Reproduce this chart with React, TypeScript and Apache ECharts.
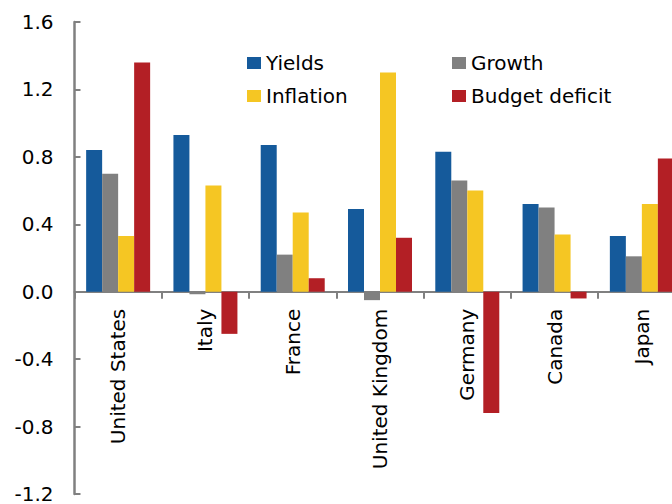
import React, { useEffect, useRef } from "react";
import * as echarts from "echarts";

const categories = ["United States", "Italy", "France", "United Kingdom", "Germany", "Canada", "Japan"];
const yields = [0.84, 0.93, 0.87, 0.49, 0.83, 0.52, 0.33];
const growth = [0.7, -0.015, 0.22, -0.05, 0.66, 0.5, 0.21];
const inflation = [0.33, 0.63, 0.47, 1.3, 0.6, 0.34, 0.52];
const budgetDeficit = [1.36, -0.25, 0.08, 0.32, -0.72, -0.04, 0.79];

const FONT = "DejaVu Sans";
const AXIS_COLOR = "#808080";
const Y_MIN = -1.2;
const Y_MAX = 1.6;
const GRID_TOP = 22;
const GRID_HEIGHT = 472;

export default function App() {
  const ref = useRef<HTMLDivElement>(null);
  useEffect(() => {
    if (!ref.current) return;
    const chart = echarts.init(ref.current, null, { renderer: "svg" });
    const bar = (name: string, data: number[], color: string) => ({
      name,
      type: "bar",
      data,
      barWidth: 16,
      barGap: "0%",
      itemStyle: { color },
    });
    // distance from the grid bottom up to the zero line
    const zeroOffset = (GRID_HEIGHT * (0 - Y_MIN)) / (Y_MAX - Y_MIN);
    const legendText = { fontFamily: FONT, fontSize: 20, color: "#000", lineHeight: 20 };
    chart.setOption({
      animation: false,
      textStyle: { fontFamily: FONT },
      grid: {
        left: 74.5,
        top: GRID_TOP,
        width: 611,
        height: GRID_HEIGHT,
        containLabel: false,
        outerBoundsMode: "none",
      },
      legend: [
        {
          data: ["Yields", "Inflation"],
          orient: "vertical",
          left: 242,
          top: 48,
          itemWidth: 14,
          itemHeight: 12,
          itemGap: 13,
          icon: "rect",
          textStyle: legendText,
        },
        {
          data: ["Growth", "Budget deficit"],
          orient: "vertical",
          left: 447,
          top: 48,
          itemWidth: 14,
          itemHeight: 12,
          itemGap: 13,
          icon: "rect",
          textStyle: legendText,
        },
      ],
      xAxis: {
        type: "category",
        data: categories,
        offset: -zeroOffset,
        axisLine: { onZero: false, lineStyle: { color: AXIS_COLOR, width: 2 } },
        axisTick: { show: true, inside: false, length: 7, lineStyle: { color: AXIS_COLOR, width: 2 } },
        axisLabel: {
          rotate: 90,
          margin: 17,
          fontFamily: FONT,
          fontSize: 20,
          color: "#000",
          interval: 0,
        },
        splitLine: { show: false },
      },
      yAxis: {
        type: "value",
        min: Y_MIN,
        max: Y_MAX,
        interval: 0.4,
        axisLine: { show: true, lineStyle: { color: AXIS_COLOR, width: 2.5 } },
        axisTick: { show: true, inside: true, length: 6, lineStyle: { color: AXIS_COLOR, width: 2 } },
        axisLabel: {
          margin: 21,
          fontFamily: FONT,
          fontSize: 20,
          color: "#000",
          formatter: (v: number) => v.toFixed(1),
        },
        splitLine: { show: false },
      },
      series: [
        bar("Yields", yields, "#155A9B"),
        bar("Growth", growth, "#808080"),
        bar("Inflation", inflation, "#F5C623"),
        bar("Budget deficit", budgetDeficit, "#B31F25"),
      ],
    });
    return () => chart.dispose();
  }, []);
  return (
    <div
      ref={ref}
      style={{ position: "fixed", left: 0, top: 0, width: 672, height: 504, background: "#fff" }}
    />
  );
}
